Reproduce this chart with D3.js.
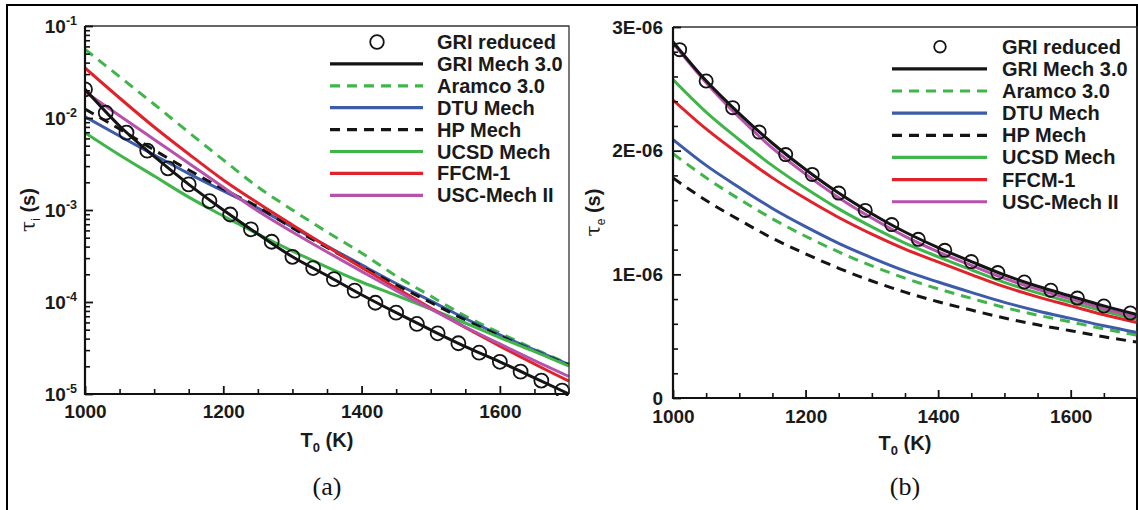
<!DOCTYPE html>
<html><head><meta charset="utf-8">
<script src="https://cdn.jsdelivr.net/npm/d3@7"></script>
<style>
body{margin:0;background:#fff}
svg{display:block}
</style>
</head><body>
<svg id="c" width="1138" height="510" font-family="Liberation Sans, Arial, Helvetica, sans-serif"></svg>
<script>
// ---------- data ----------
const T_LINES = [1000,1050,1100,1150,1200,1250,1300,1350,1400,1450,1500,1550,1600,1650,1700];
const T_REDUCED_A = [1000,1030,1060,1090,1120,1150,1180,1210,1240,1270,1300,1330,1360,1390,1420,1450,1480,1510,1540,1570,1600,1630,1660,1690];
const T_REDUCED_B = [1010,1050,1090,1130,1170,1210,1250,1290,1330,1370,1410,1450,1490,1530,1570,1610,1650,1690];

// (a) ignition delay tau_i (s)
const tauI_GRIreduced = [2.05e-2,1.14e-2,6.92e-3,4.42e-3,2.84e-3,1.90e-3,1.25e-3,8.93e-4,6.17e-4,4.52e-4,3.10e-4,2.34e-4,1.77e-4,1.33e-4,9.82e-5,7.66e-5,5.77e-5,4.57e-5,3.56e-5,2.81e-5,2.24e-5,1.75e-5,1.40e-5,1.09e-5];
const tauI_GRI30  = [2.05e-2,8.18e-3,3.82e-3,1.90e-3,1.00e-3,5.48e-4,3.10e-4,1.94e-4,1.20e-4,7.66e-5,4.97e-5,3.28e-5,2.24e-5,1.50e-5,1.00e-5];
const tauI_Aramco = [5.58e-2,2.81e-2,1.41e-2,6.99e-3,3.50e-3,1.78e-3,1.00e-3,5.77e-4,3.41e-4,1.92e-4,1.16e-4,7.04e-5,4.60e-5,3.08e-5,2.12e-5];
const tauI_DTU    = [1.03e-2,6.37e-3,3.96e-3,2.49e-3,1.61e-3,1.05e-3,6.53e-4,4.06e-4,2.53e-4,1.59e-4,1.03e-4,6.62e-5,4.38e-5,3.01e-5,2.09e-5];
const tauI_HP     = [1.25e-2,7.59e-3,4.49e-3,2.72e-3,1.69e-3,1.08e-3,6.37e-4,3.91e-4,2.43e-4,1.53e-4,9.88e-5,6.37e-5,4.27e-5,2.93e-5,2.07e-5];
const tauI_UCSD   = [6.92e-3,3.96e-3,2.34e-3,1.38e-3,8.61e-4,5.48e-4,3.58e-4,2.40e-4,1.65e-4,1.18e-4,8.39e-5,5.91e-5,4.11e-5,2.90e-5,2.01e-5];
const tauI_FFCM   = [3.50e-2,1.65e-2,7.98e-3,4.06e-3,2.12e-3,1.19e-3,6.87e-4,4.01e-4,2.37e-4,1.42e-4,8.61e-5,5.28e-5,3.32e-5,2.12e-5,1.38e-5];
const tauI_USC    = [1.93e-2,1.06e-2,5.84e-3,3.22e-3,1.77e-3,9.75e-4,5.77e-4,3.50e-4,2.15e-4,1.33e-4,8.39e-5,5.35e-5,3.50e-5,2.31e-5,1.55e-5];

// (b) excitation time tau_e (s)
const tauE_GRIreduced = [2.817e-6,2.563e-6,2.348e-6,2.150e-6,1.968e-6,1.808e-6,1.657e-6,1.517e-6,1.402e-6,1.283e-6,1.194e-6,1.103e-6,1.014e-6,0.938e-6,0.871e-6,0.808e-6,0.744e-6,0.687e-6];
const tauE_GRI30  = [2.880e-6,2.565e-6,2.300e-6,2.060e-6,1.848e-6,1.657e-6,1.490e-6,1.342e-6,1.216e-6,1.103e-6,0.995e-6,0.904e-6,0.824e-6,0.745e-6,0.675e-6];
const tauE_Aramco = [1.976e-6,1.781e-6,1.608e-6,1.449e-6,1.308e-6,1.181e-6,1.068e-6,0.969e-6,0.883e-6,0.806e-6,0.732e-6,0.670e-6,0.615e-6,0.559e-6,0.508e-6];
const tauE_DTU    = [2.090e-6,1.881e-6,1.702e-6,1.533e-6,1.386e-6,1.251e-6,1.134e-6,1.028e-6,0.938e-6,0.854e-6,0.773e-6,0.704e-6,0.644e-6,0.584e-6,0.530e-6];
const tauE_HP     = [1.780e-6,1.597e-6,1.440e-6,1.292e-6,1.166e-6,1.049e-6,0.946e-6,0.856e-6,0.778e-6,0.711e-6,0.647e-6,0.592e-6,0.544e-6,0.495e-6,0.452e-6];
const tauE_UCSD   = [2.575e-6,2.312e-6,2.088e-6,1.879e-6,1.696e-6,1.529e-6,1.384e-6,1.253e-6,1.142e-6,1.037e-6,0.935e-6,0.850e-6,0.775e-6,0.701e-6,0.636e-6];
const tauE_FFCM   = [2.410e-6,2.176e-6,1.971e-6,1.780e-6,1.613e-6,1.460e-6,1.325e-6,1.204e-6,1.100e-6,0.998e-6,0.900e-6,0.818e-6,0.745e-6,0.673e-6,0.610e-6];
const tauE_USC    = [2.870e-6,2.550e-6,2.270e-6,2.020e-6,1.810e-6,1.620e-6,1.455e-6,1.307e-6,1.182e-6,1.072e-6,0.967e-6,0.878e-6,0.800e-6,0.722e-6,0.655e-6];

const X_MAJOR = [1000,1200,1400,1600];
const Y_A_MAJOR = [1e-5,1e-4,1e-3,1e-2,1e-1];
const Y_A_EXP = ["-5","-4","-3","-2","-1"];
const Y_B_MAJOR = [0,1e-6,2e-6,3e-6];
const Y_B_LABELS = ["0","1E-06","2E-06","3E-06"];

const LEGEND_NAMES = ["GRI reduced","GRI Mech 3.0","Aramco 3.0","DTU Mech","HP Mech","UCSD Mech","FFCM-1","USC-Mech II"];

// styles
const GREEN = "#3fb54a", BLUE = "#3c5ba8", RED = "#e0222b", MAG = "#b652a9", BLK = "#141414";
const SERIES = [
  {name:"Aramco 3.0", color:GREEN, dash:"10,7", a:tauI_Aramco, b:tauE_Aramco},
  {name:"DTU Mech",   color:BLUE,  dash:null,   a:tauI_DTU,    b:tauE_DTU},
  {name:"HP Mech",    color:BLK,   dash:"10,7", a:tauI_HP,     b:tauE_HP},
  {name:"UCSD Mech",  color:GREEN, dash:null,   a:tauI_UCSD,   b:tauE_UCSD},
  {name:"FFCM-1",     color:RED,   dash:null,   a:tauI_FFCM,   b:tauE_FFCM},
  {name:"USC-Mech II",color:MAG,   dash:null,   a:tauI_USC,    b:tauE_USC},
  {name:"GRI Mech 3.0",color:BLK,  dash:null,   a:tauI_GRI30,  b:tauE_GRI30}
];
const styleOf = Object.fromEntries(SERIES.map(s=>[s.name,s]));

// ---------- drawing ----------
const svg = d3.select("#c");
svg.append("rect").attr("width",1138).attr("height",510).attr("fill","#fff");
svg.append("path").attr("d","M7,512 V5 H1137 V512").attr("fill","none").attr("stroke","#000").attr("stroke-width",2);

function styleTickText(a){
  a.selectAll("text").attr("font-size",19).attr("font-weight","bold").attr("fill","#1a1a1a")
   .style("font-family","Liberation Sans, Arial, sans-serif");
}

function panel(o){
  const g = svg.append("g");
  const x = d3.scaleLinear().domain([1000,1700]).range([o.x0,o.x1]);
  const y = o.log ? d3.scaleLog().domain([1e-5,1e-1]).range([o.y1,o.y0])
                  : d3.scaleLinear().domain([0,3e-6]).range([o.y1,o.y0]);
  const clipId = "clip"+o.id;
  g.append("clipPath").attr("id",clipId).append("rect")
    .attr("x",o.x0).attr("y",o.y0-2).attr("width",o.x1-o.x0+2).attr("height",o.y1-o.y0+4);

  const line = d3.line().x(d=>x(d[0])).y(d=>y(d[1])).curve(d3.curveMonotoneX);
  const lg = g.append("g").attr("clip-path",`url(#${clipId})`);
  SERIES.forEach(s=>{
    const vals = s[o.key];
    lg.append("path").datum(T_LINES.map((t,i)=>[t,vals[i]]))
      .attr("d",line).attr("fill","none").attr("stroke",s.color)
      .attr("stroke-width",3).attr("stroke-dasharray",s.dash)
      .attr("stroke-linejoin","round");
  });
  const red = o.key==="a" ? tauI_GRIreduced : tauE_GRIreduced;
  const tr  = o.key==="a" ? T_REDUCED_A : T_REDUCED_B;
  lg.selectAll("circle.m").data(tr.map((t,i)=>[t,red[i]])).enter().append("circle")
    .attr("cx",d=>x(d[0])).attr("cy",d=>y(d[1])).attr("r",o.mr)
    .attr("fill","none").attr("stroke",BLK).attr("stroke-width",1.8);

  g.append("path").attr("d",`M${o.x0},${o.y0} H${o.x1} V${o.y1}`)
    .attr("fill","none").attr("stroke","#333").attr("stroke-width",1.3);

  const xMinor = [];
  for(let t=1050;t<1700;t+=50) if(!X_MAJOR.includes(t)) xMinor.push(t);
  g.append("g").attr("transform",`translate(0,${o.y1})`)
    .call(d3.axisBottom(x).tickValues(xMinor).tickFormat("").tickSizeInner(-5).tickSizeOuter(0))
    .call(a=>a.select(".domain").remove())
    .call(a=>a.selectAll("line").attr("stroke","#111").attr("stroke-width",1.6));
  g.append("g").attr("transform",`translate(0,${o.y1})`)
    .call(d3.axisBottom(x).tickValues(X_MAJOR).tickFormat(d3.format("d")).tickSizeInner(-8).tickSizeOuter(0).tickPadding(o.xpad))
    .call(a=>a.select(".domain").remove())
    .call(a=>a.selectAll("line").attr("stroke","#111").attr("stroke-width",1.8))
    .call(styleTickText);

  let yMinor=[];
  if(o.log){
    for(let e=-5;e<-1;e++) for(let k=2;k<=9;k++) yMinor.push(k*Math.pow(10,e));
  } else {
    for(let i=1;i<15;i++) if(i%5!==0) yMinor.push(i*0.2e-6);
  }
  g.append("g").attr("transform",`translate(${o.x0},0)`)
    .call(d3.axisLeft(y).tickValues(yMinor).tickFormat("").tickSizeInner(-5).tickSizeOuter(0))
    .call(a=>a.select(".domain").remove())
    .call(a=>a.selectAll("line").attr("stroke","#111").attr("stroke-width",1.6));
  const yMaj = g.append("g").attr("transform",`translate(${o.x0},0)`)
    .call(d3.axisLeft(y).tickValues(o.log?Y_A_MAJOR:Y_B_MAJOR)
      .tickFormat(o.log ? (d=>"10") : ((d,i)=>Y_B_LABELS[i]))
      .tickSizeInner(-8).tickSizeOuter(0).tickPadding(o.ypad))
    .call(a=>a.select(".domain").remove())
    .call(a=>a.selectAll("line").attr("stroke","#111").attr("stroke-width",1.8))
    .call(styleTickText);
  if(o.log){
    yMaj.selectAll(".tick text").each(function(d,i){
      const t = d3.select(this); t.text(null);
      t.append("tspan").text("10");
      t.append("tspan").attr("dy",-8).attr("font-size",12.5).text(Y_A_EXP[i]);
    });
  }
  g.append("path").attr("d",`M${o.x0},${o.y0} V${o.y1} H${o.x1}`)
    .attr("fill","none").attr("stroke","#111").attr("stroke-width",2.2);

  const xt = g.append("text").attr("x",(o.x0+o.x1)/2).attr("y",o.xtY).attr("text-anchor","middle")
    .attr("font-size",20).attr("font-weight","bold").attr("fill","#1a1a1a");
  xt.append("tspan").text("T");
  xt.append("tspan").attr("font-size",13).attr("dy",5).text("0");
  xt.append("tspan").attr("dy",-5).text(" (K)");

  const yt = g.append("text").attr("transform",`translate(${o.ytX},${(o.y0+o.y1)/2}) rotate(-90)`)
    .attr("text-anchor","middle").attr("font-size",20).attr("fill","#1a1a1a");
  yt.append("tspan").style("font-family","DejaVu Serif, serif").attr("font-size",20).text("τ");
  yt.append("tspan").attr("font-size",12).attr("dy",5).text(o.sub);
  yt.append("tspan").attr("dy",-5).attr("font-weight","bold").text(" (s)");

  const L = o.leg;
  LEGEND_NAMES.forEach((n,i)=>{
    const yy = L.y0 + i*L.dy;
    if(i===0){
      g.append("circle").attr("cx",L.cx).attr("cy",yy).attr("r",L.r).attr("fill","none")
        .attr("stroke",BLK).attr("stroke-width",1.8);
    } else {
      const s = styleOf[n];
      g.append("line").attr("x1",L.lx0).attr("x2",L.lx1).attr("y1",yy).attr("y2",yy)
        .attr("stroke",s.color).attr("stroke-width",3.2).attr("stroke-dasharray",s.dash);
    }
    g.append("text").attr("x",L.tx).attr("y",yy+7).attr("font-size",L.fs).attr("font-weight","bold")
      .attr("fill","#1a1a1a").text(n);
  });

  svg.append("text").attr("x",(o.x0+o.x1)/2).attr("y",495).attr("text-anchor","middle")
    .style("font-family","Liberation Serif, Times New Roman, serif").attr("font-size",26).attr("fill","#111").text(o.cap);
}

panel({id:"a", key:"a", log:true, x0:85, x1:569, y0:26, y1:394, xpad:11, ypad:8, xtY:447, ytX:35, sub:"i", cap:"(a)", mr:7,
  leg:{y0:42, dy:21.9, lx0:330, lx1:423, tx:437, cx:377, r:6.8, fs:20}});
panel({id:"b", key:"b", log:false, x0:673, x1:1137, y0:27, y1:398, xpad:12, ypad:10, xtY:450, ytX:600, sub:"e", cap:"(b)", mr:6.6,
  leg:{y0:46.7, dy:22.15, lx0:892, lx1:987, tx:1002, cx:940, r:5.8, fs:20}});
</script>
</body></html>
